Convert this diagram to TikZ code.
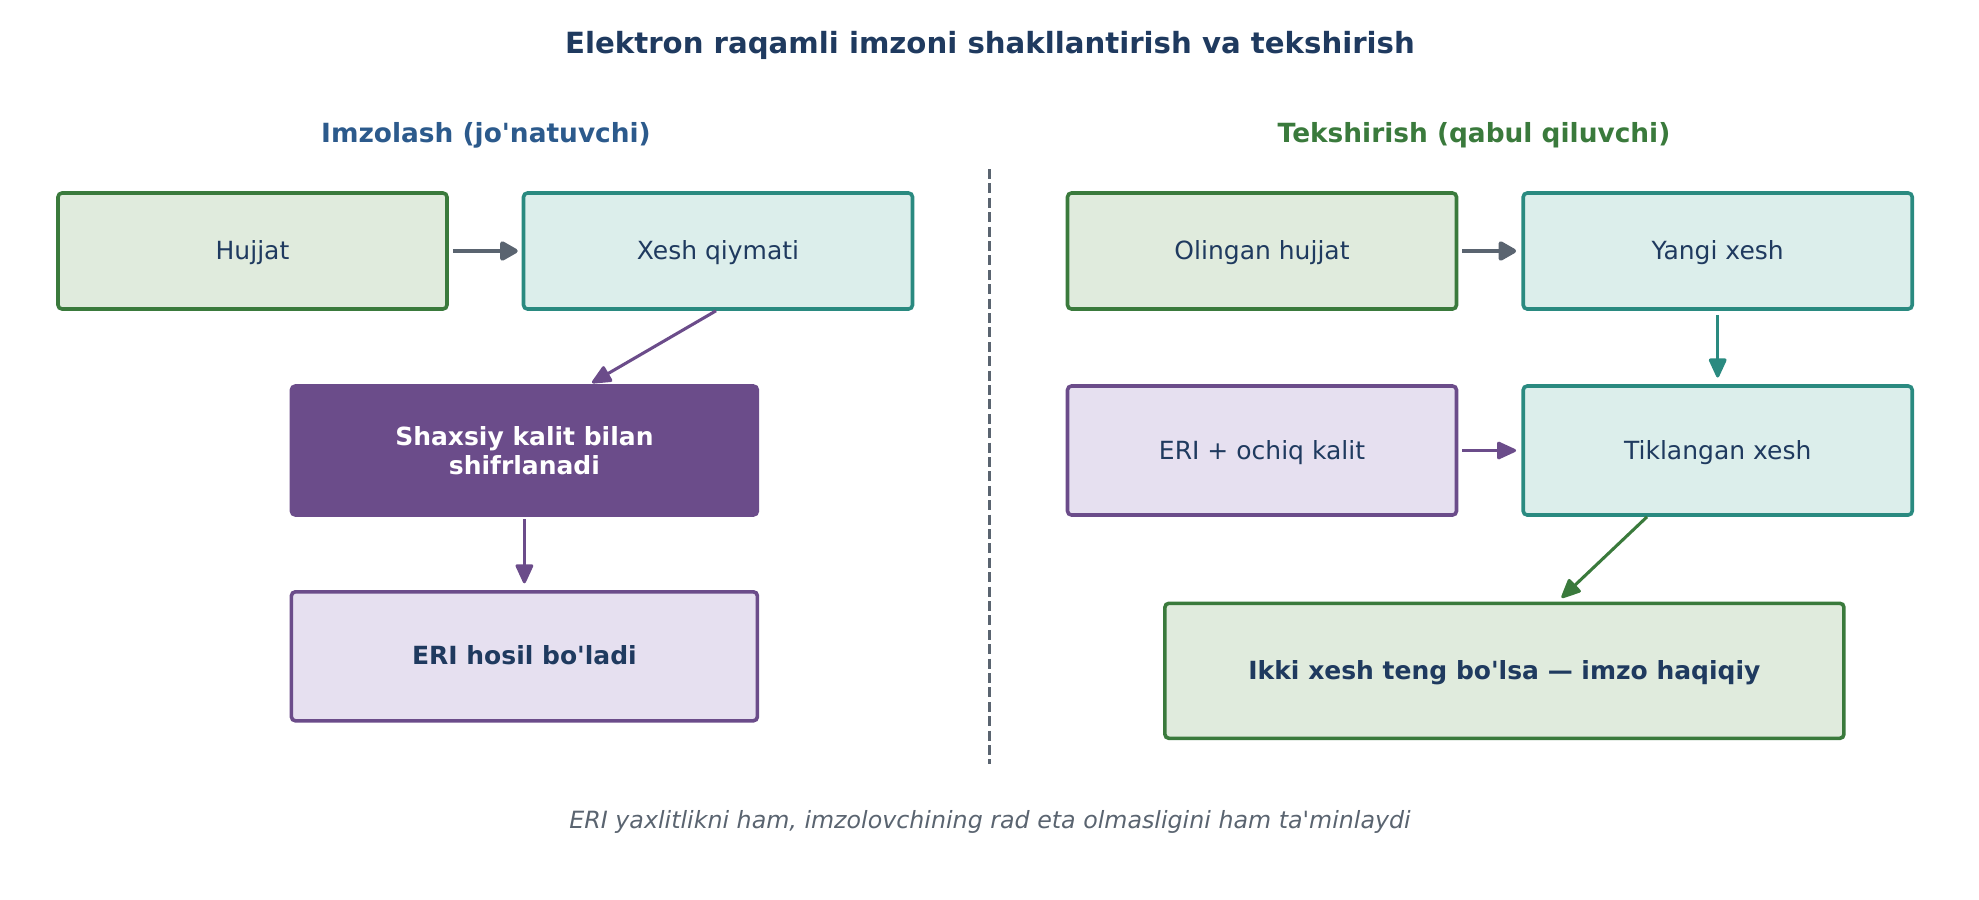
\documentclass[tikz,border=0pt]{standalone}
\usepackage{fontspec}
\setmainfont{DejaVu Sans}
\usetikzlibrary{arrows.meta,calc}
\definecolor{navy}{HTML}{1F3A5F}
\definecolor{hblue}{HTML}{2C5A8C}
\definecolor{hgreen}{HTML}{3A7A3C}
\definecolor{gfill}{HTML}{E0EBDD}
\definecolor{tealc}{HTML}{2A8A80}
\definecolor{tfill}{HTML}{DCEEEB}
\definecolor{purp}{HTML}{6B4C8A}
\definecolor{pfill}{HTML}{E6E0F0}
\definecolor{grayc}{HTML}{5A6470}
\definecolor{dashc}{HTML}{5A6470}
\newcommand{\aq}{\textquotesingle}
\tikzset{
  box/.style={draw, line width=2.7pt, rounded corners=3pt, align=center, text=navy,
    font=\fontsize{18.75}{21.8}\selectfont, inner sep=0pt},
  oneline/.style={text depth=1.5pt},
  small/.style={box, oneline, minimum width=291.75pt, minimum height=87pt},
  mid/.style={box, minimum width=349.5pt, minimum height=96.75pt},
  greenbox/.style={fill=gfill, draw=hgreen},
  tealbox/.style={fill=tfill, draw=tealc},
  lavbox/.style={fill=pfill, draw=purp},
  darkbox/.style={fill=purp, draw=purp, text=white, font=\bfseries\fontsize{18.75}{21.8}\selectfont},
  bigarrow/.style={draw=grayc, line width=3.3pt, -{Triangle[length=15pt, width=16pt, round]}},
  thinarrow/.style={line width=2.3pt, -{Triangle[length=16pt, width=14pt, round]}},
}
\begin{document}
\begin{tikzpicture}[x=0.75pt, y=-0.75pt]
\useasboundingbox (0,0) rectangle (1979,899);
% titles
\node[text=navy, font=\bfseries\fontsize{21.9}{26}\selectfont] (title) at (990,45) {Elektron raqamli imzoni shakllantirish va tekshirish};
\node[text=hblue, font=\bfseries\fontsize{19.8}{24}\selectfont] (hl) at (486,135) {Imzolash (jo\aq natuvchi)};
\node[text=hgreen, font=\bfseries\fontsize{19.8}{24}\selectfont] (hr) at (1474,135) {Tekshirish (qabul qiluvchi)};
% divider
\coordinate (dtop) at (989.5,169);
\coordinate (dbot) at (989.5,764);
\draw[dashc, line width=2.1pt, dash pattern=on 7.5pt off 3.3pt] (dtop) -- (dbot);
% left column
\node[small, greenbox] (hujjat) at (252.5,251) {Hujjat};
\node[small, tealbox] (xesh) at (718,251) {Xesh qiymati};
\node[mid, darkbox] (shax) at (524.4,450.5) {Shaxsiy kalit bilan\\shifrlanadi};
\node[mid, lavbox, text height=12pt, text depth=0pt, font=\bfseries\fontsize{18.75}{21.8}\selectfont] (eri) at (524.4,656.3) {ERI hosil bo\aq ladi};
% right column
\node[small, greenbox] (olingan) at (1262,251) {Olingan hujjat};
\node[small, tealbox] (yangi) at (1717.7,251) {Yangi xesh};
\node[small, lavbox, minimum height=96.75pt] (eriok) at (1262,450.5) {ERI + ochiq kalit};
\node[small, tealbox, minimum height=96.75pt] (tik) at (1717.7,450.5) {Tiklangan xesh};
\node[box, oneline, greenbox, minimum width=509.25pt, minimum height=101.25pt, font=\bfseries\fontsize{18.75}{21.8}\selectfont] (ikki) at (1504.4,670.8) {Ikki xesh teng bo\aq lsa — imzo haqiqiy};
% footer
\node[text=grayc, font=\itshape\fontsize{17.8}{21}\selectfont] (foot) at (990,822) {ERI yaxlitlikni ham, imzolovchining rad eta olmasligini ham ta\aq minlaydi};
% arrows
\draw[bigarrow, shorten <=3pt, shorten >=3pt] (hujjat.east) -- (xesh.west);
\draw[bigarrow, shorten <=3pt, shorten >=4pt] (olingan.east) -- (yangi.west);
\draw[thinarrow, purp, shorten >=2pt] ([xshift=-1.5pt]xesh.south) -- ([xshift=49pt]shax.north);
\draw[thinarrow, purp, shorten <=2pt, shorten >=5pt] (shax.south) -- (eri.north);
\draw[thinarrow, tealc, shorten <=3pt, shorten >=5pt] (yangi.south) -- (tik.north);
\draw[thinarrow, purp, shorten <=3pt, shorten >=4pt] (eriok.east) -- (tik.west);
\draw[thinarrow, hgreen, shorten >=4pt] ([xshift=-53pt]tik.south) -- ([xshift=40pt]ikki.north);
\end{tikzpicture}
\end{document}
